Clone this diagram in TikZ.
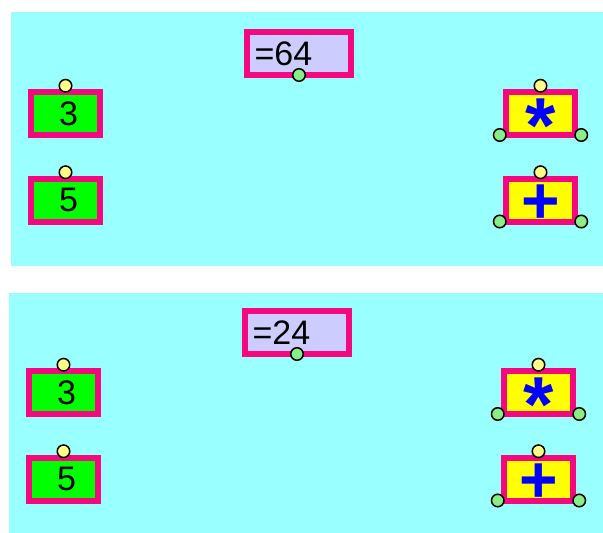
\documentclass[tikz,border=0pt]{standalone}
\usepackage{fontspec}
\setmainfont{Liberation Sans}
\usetikzlibrary{positioning}
\definecolor{CKPanel}{HTML}{99FFFF}
\definecolor{CKFrame}{HTML}{F5087F}
\definecolor{CKNum}{HTML}{00FF00}
\definecolor{CKOp}{HTML}{FFFF00}
\definecolor{CKRes}{HTML}{CCCCFF}
\definecolor{CKPinIn}{HTML}{FFFF88}
\definecolor{CKPinOut}{HTML}{88EE88}
\definecolor{CKSign}{HTML}{0000FF}
\tikzset{
  ckPanel/.style={fill=CKPanel, draw=none},
  ckBox/.style={
    rectangle, draw=CKFrame, fill=#1, line width=6pt, outer sep=0pt,
    inner sep=0pt, minimum width=69pt, minimum height=43pt
  },
  ckBox/.default=CKNum,
  ckNum/.style={
    ckBox=CKNum, text=black, font=\fontsize{34}{34}\selectfont,
    execute at begin node={\hspace*{6pt}}
  },
  ckOp/.style={ckBox=CKOp, text=CKSign, font=\fontsize{66}{66}\selectfont\bfseries},
  ckStar/.style={ckOp, font=\fontsize{78}{78}\selectfont\bfseries},
  ckRes/.style={
    ckBox=CKRes, minimum width=104pt, text width=89pt, inner xsep=7pt,
    align=left, text=black, font=\fontsize{34}{34}\selectfont
  },
  ckPin/.style={
    circle, draw=black, fill=#1, line width=1.5pt, minimum size=12.5pt,
    inner sep=0pt, outer sep=0pt
  },
  ckPinIn/.style={ckPin=CKPinIn},
  ckPinOut/.style={ckPin=CKPinOut}
}
\begin{document}
\begin{tikzpicture}[x=1pt, y=-1pt]
  \useasboundingbox (0,0) rectangle (603,533);
  \fill[white] (0,0) rectangle (603,533);
  % two panels, same blocks, different result
  \path[ckPanel] (11,12) rectangle (603,266);
  \path[ckPanel] (9,293) rectangle (603,533);
  \foreach \p/\dx/\dy/\val in {a/0/0/64, b/-2/279/24}{
    \begin{scope}[shift={(\dx,\dy)}]
      \node[ckRes] (res\p) at (299,53.5) {=\val};
      \node[ckPinOut] (resOut\p) at (res\p.south) {};

      \node[ckNum] (three\p) at (65.5,113.5) {3};
      \node[ckPinIn, above=0pt of three\p] (threeIn\p) {};
      \node[ckNum] (five\p) at (65.5,200) {5};
      \node[ckPinIn, above=0pt of five\p] (fiveIn\p) {};

      \node[ckStar] (mul\p) at (540.5,113.5) {\raisebox{-0.5em}[0pt][0pt]{*}};
      \node[ckPinIn, above=0pt of mul\p] (mulIn\p) {};
      \node[ckPinOut, left=0pt of mul\p.south west] (mulOutL\p) {};
      \node[ckPinOut, right=0pt of mul\p.south east] (mulOutR\p) {};
      \node[ckOp] (add\p) at (540.5,200) {\raisebox{-0.36em}[0pt][0pt]{+}};
      \node[ckPinIn, above=0pt of add\p] (addIn\p) {};
      \node[ckPinOut, left=0pt of add\p.south west] (addOutL\p) {};
      \node[ckPinOut, right=0pt of add\p.south east] (addOutR\p) {};
    \end{scope}
  }
\end{tikzpicture}
\end{document}
